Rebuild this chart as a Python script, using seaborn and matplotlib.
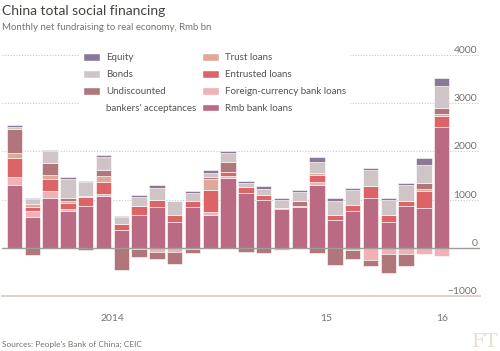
import numpy as np
import pandas as pd
import matplotlib.pyplot as plt
import seaborn as sns
from matplotlib.patches import Patch
from matplotlib.transforms import blended_transform_factory

# Jan 2014 - Jan 2016, Rmb bn
months = pd.date_range('2014-01-01', periods=25, freq='MS').strftime('%b %Y').tolist()

rmb_loans = [1302, 630, 1036, 763, 861, 1071, 378, 679, 847, 539, 840, 679,
             1456, 1127, 987, 805, 847, 1309, 581, 756, 1029, 541, 874, 826, 2512]
fx_loans = [161, 133, 140, 35, -10, 35, 0, -35, -84, -91, -28, 56,
            42, -14, 0, -49, 0, 56, 0, -56, -250, -139, -139, -125, -174]
entrusted = [399, 77, 245, 133, 196, 259, 119, 189, 154, 133, 126, 462,
             84, 133, 98, 28, 14, 140, 105, 133, 245, 146, 90, 354, 222]
trust = [105, 77, 98, 42, 7, 119, 0, 0, 0, 0, 0, 224,
         0, 0, 0, 0, 0, 42, 0, 0, 0, 0, 0, 35, 42]
undiscounted = [504, -154, 238, 70, -30, 133, -462, -154, -147, -252, -84, 56,
                189, -70, -119, 0, 119, -119, -350, -168, -135, -382, -250, 139, 132]
bonds = [35, 105, 245, 378, 301, 266, 133, 189, 245, 294, 175, 84,
         189, 84, 140, 154, 168, 224, 287, 308, 343, 298, 333, 368, 451]
equity = [42, 21, 35, 56, 21, 35, 35, 28, 56, 14, 42, 56,
          42, 49, 63, 49, 49, 105, 63, 49, 42, 49, 56, 146, 160]

year_pos = [5.5, 17.5, 24]
year_labels = ['2014', '15', '16']

colors = {
    'Rmb bank loans': '#ba6a82',
    'Foreign-currency bank loans': '#f2b1b6',
    'Entrusted loans': '#dc6466',
    'Trust loans': '#dfa898',
    "Undiscounted\nbankers' acceptances": '#b0767b',
    'Bonds': '#cfc5c6',
    'Equity': '#8b7796',
}
layers = [('Rmb bank loans', rmb_loans), ('Foreign-currency bank loans', fx_loans),
          ('Entrusted loans', entrusted), ('Trust loans', trust),
          ("Undiscounted\nbankers' acceptances", undiscounted),
          ('Bonds', bonds), ('Equity', equity)]

sns.set_style('white')
plt.rcParams['font.family'] = ['Lato', 'DejaVu Sans']
grey = '#74736c'

fig = plt.figure(figsize=(5, 3.51), dpi=100)
ax = fig.add_axes([0.004, 0.157, 0.956, 0.686])

pos_base = np.zeros(len(months))
neg_base = np.zeros(len(months))
for name, vals in layers:
    vals = np.array(vals, dtype=float)
    base = np.where(vals >= 0, pos_base, neg_base)
    sns.barplot(x=months, y=vals, bottom=base, color=colors[name], saturation=1,
                width=0.87, errorbar=None, edgecolor='white', linewidth=0.4, ax=ax)
    pos_base += np.clip(vals, 0, None)
    neg_base += np.clip(vals, None, 0)

ax.set_xlabel('')
ax.set_ylabel('')
ax.set_xlim(-0.70, 26.15)
ax.set_ylim(-1000, 4000)

# y axis: labels on the right, above the gridlines
ax.set_yticks([-1000, 0, 1000, 2000, 3000, 4000])
ax.yaxis.tick_right()
ax.tick_params(axis='y', length=0, pad=-2, labelsize=7.5, labelcolor=grey)
for lab in ax.get_yticklabels():
    lab.set_horizontalalignment('right')
    lab.set_verticalalignment('bottom')
ax.yaxis.grid(True, linestyle=(0, (1, 1.5)), color='#c8c8c8', linewidth=0.8)
ax.set_axisbelow(True)
ax.axhline(0, color='#a09d98', linewidth=1, zorder=3)

# x axis: ticks between months, year labels centred under each year
bounds = np.arange(-0.5, 25, 1)
ax.set_xticks(bounds)
ax.tick_params(axis='x', which='major', length=3, width=0.8, color='#d6ccc2', labelbottom=False)
for t, loc in zip(ax.xaxis.get_major_ticks(), bounds):
    if loc in (11.5, 23.5):
        t.tick1line.set_markersize(5.5)
trans = blended_transform_factory(ax.transData, ax.transAxes)
for xp, lab in zip(year_pos, year_labels):
    ax.text(xp, -0.075, lab, transform=trans, ha='center', va='top', fontsize=7.5, color=grey)

for s in ['top', 'left', 'right']:
    ax.spines[s].set_visible(False)
ax.spines['bottom'].set_color('#d6ccc2')
ax.spines['bottom'].set_linewidth(1.2)

blank = Patch(facecolor='none', edgecolor='none')
handles = [Patch(facecolor=colors['Equity']), Patch(facecolor=colors['Bonds']),
           Patch(facecolor=colors["Undiscounted\nbankers' acceptances"]), blank,
           Patch(facecolor=colors['Trust loans']), Patch(facecolor=colors['Entrusted loans']),
           Patch(facecolor=colors['Foreign-currency bank loans']), Patch(facecolor=colors['Rmb bank loans'])]
labels = ['Equity', 'Bonds', 'Undiscounted', "bankers' acceptances",
          'Trust loans', 'Entrusted loans', 'Foreign-currency bank loans', 'Rmb bank loans']
leg = ax.legend(handles, labels, ncol=2, loc='upper left', bbox_to_anchor=(0.148, 0.873),
                bbox_transform=fig.transFigure, fontsize=7, frameon=True, framealpha=1,
                facecolor='white', edgecolor='none', fancybox=False, borderpad=0.4,
                handlelength=1.75, handleheight=0.8, handletextpad=0.62,
                labelspacing=0.8, columnspacing=0.6)
for txt in leg.get_texts():
    txt.set_color('#55534f')

fig.text(0.004, 0.957, 'China total social financing', fontsize=10, color='#43423e', va='baseline')
fig.text(0.004, 0.915, 'Monthly net fundraising to real economy, Rmb bn', fontsize=6.9,
         color=grey, va='baseline')
fig.text(0.004, 0.012, "Sources: People's Bank of China; CEIC", fontsize=6, color=grey, va='baseline')
fig.text(0.998, 0.012, 'FT', fontsize=14, color='#ecdccb', ha='right', va='baseline',
         family='DejaVu Serif')

fig.savefig('out.png', dpi=100)
